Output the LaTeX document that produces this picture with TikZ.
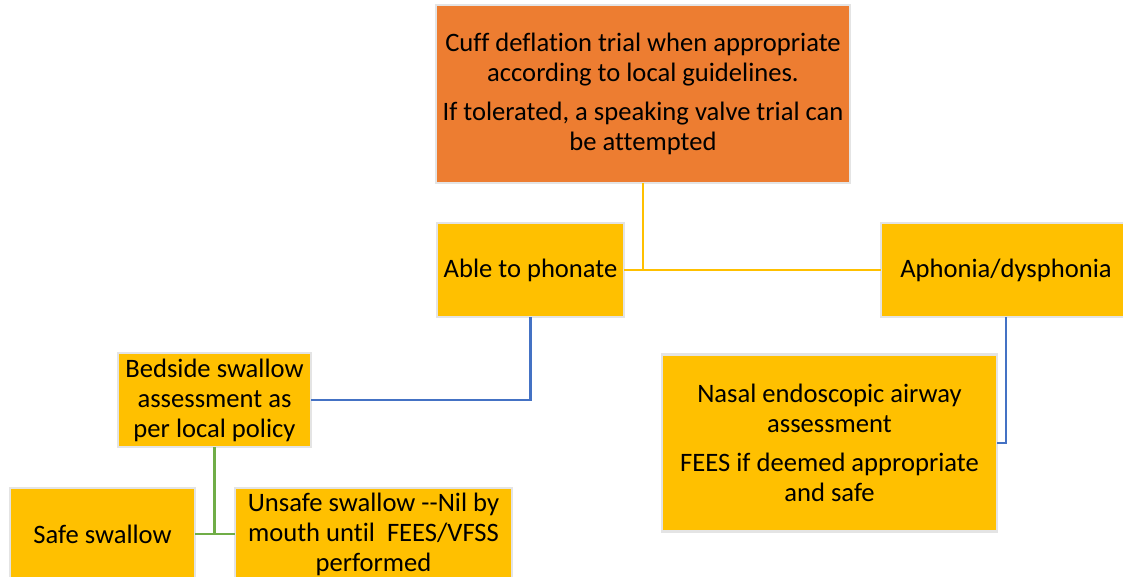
\documentclass[tikz,border=0pt]{standalone}
\usepackage{fontspec}
\setmainfont{Carlito}[Ligatures=NoCommon]
\definecolor{boxorange}{HTML}{ED7D31}
\definecolor{boxyellow}{HTML}{FFC000}
\definecolor{boxedge}{HTML}{E4E4E4}
\definecolor{lineblue}{HTML}{4472C4}
\definecolor{linegreen}{HTML}{70AD47}
\tikzset{
  flowbox/.style={draw=boxedge, line width=2.5pt, fill=boxyellow,
    align=center, inner sep=0pt, outer sep=0pt,
    font=\fontsize{26.6}{30}\selectfont},
  topbox/.style={flowbox, fill=boxorange},
  yline/.style={draw=boxyellow, line width=2.6pt},
  bline/.style={draw=lineblue, line width=2.2pt},
  gline/.style={draw=linegreen, line width=2.6pt}
}

\begin{document}
\begin{tikzpicture}[x=1pt,y=-1pt]
\useasboundingbox (0,0) rectangle (1123,577);
\clip (0,0) rectangle (1123,577);
% riquadro iniziale
   \node[topbox, minimum width=414pt, minimum height=178pt] (cuff) at
   (643,94) {Cuff deflation trial when appropriate\\according to local
   guidelines.\\[9pt]If tolerated, a speaking valve trial can\\be
   attempted};
% esiti della prova
   \node[flowbox, minimum width=187pt, minimum height=94pt] (able) at
   (530.5,270) {Able to phonate};
   \node[flowbox, minimum width=250pt, minimum height=94pt] (aphonia) at
   (1006,270) {Aphonia/dysphonia};
% valutazioni
   \node[flowbox, minimum width=193pt, minimum height=94pt] (bedside) at
   (214.5,400) {Bedside swallow\\assessment as\\per local policy};
   \node[flowbox, minimum width=335pt, minimum height=177pt] (nasal) at
   (829.5,443) {Nasal endoscopic airway\\assessment\\[9pt]FEES if deemed
   appropriate\\and safe};
% deglutizione
   \node[flowbox, minimum width=185pt, minimum height=92pt] (safe) at
   (102.5,534) {Safe swallow};
   \node[flowbox, minimum width=277pt, minimum height=92pt] (unsafe) at
   (373.5,534) {Unsafe swallow -{}-Nil by\\mouth until~ FEES/VFSS\\performed};
% collegamenti
   \draw[yline] (able.east) -- (aphonia.west); \draw[yline]
   (cuff.south) -- (cuff.south |- able.east);
   \draw[bline] (able.south) |- (bedside.east); \draw[bline]
   (aphonia.south) |- (nasal.east);
   \draw[gline] (safe.east) -- (unsafe.west); \draw[gline]
   (bedside.south) -- (bedside.south |- safe.east);
\end{tikzpicture}
\end{document}
